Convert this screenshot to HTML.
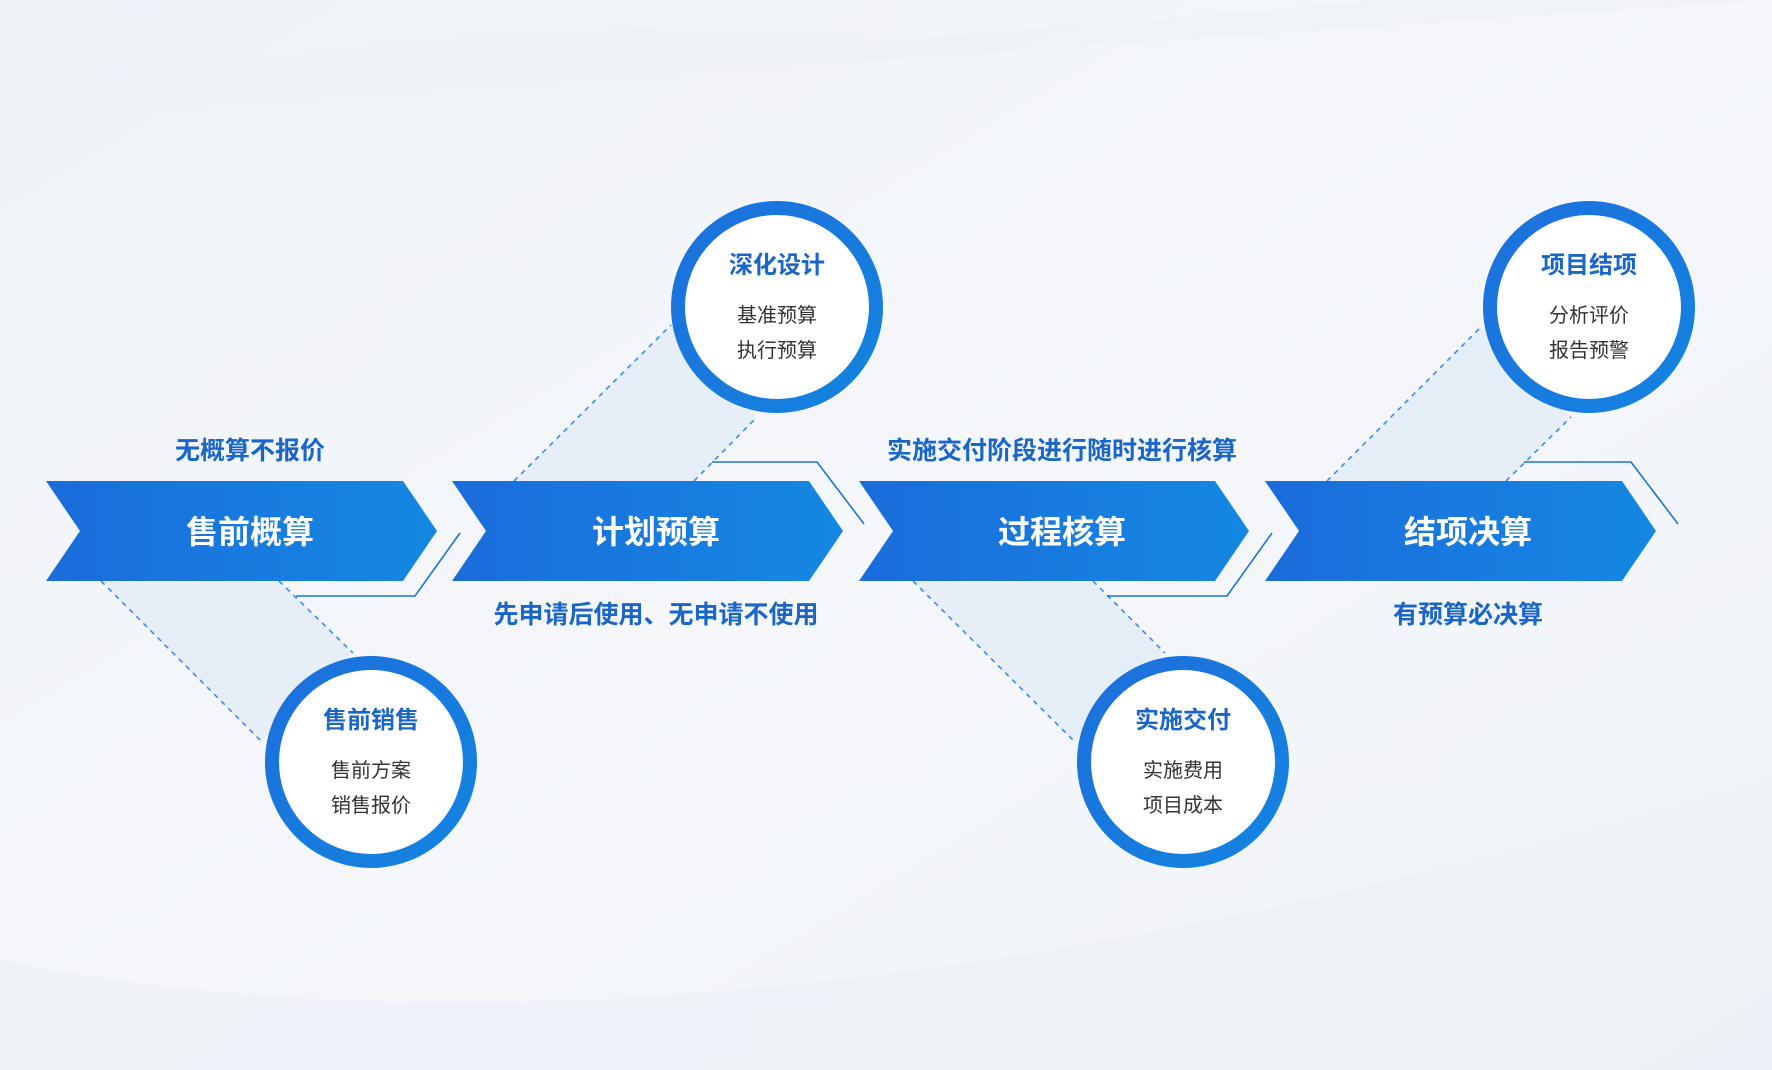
<!DOCTYPE html>
<html><head><meta charset="utf-8"><style>
html,body{margin:0;padding:0;background:#f3f6fa;}
svg{display:block}
text{font-family:"Liberation Sans","Noto Sans CJK SC",sans-serif}
</style></head><body>
<svg width="1772" height="1070" viewBox="0 0 1772 1070" xmlns="http://www.w3.org/2000/svg">
<defs>
<linearGradient id="ag" x1="0" x2="1" y1="0" y2="0"><stop offset="0" stop-color="#1b6cdb"/><stop offset="1" stop-color="#1488e2"/></linearGradient>
<linearGradient id="rg" x1="0" x2="1" y1="0" y2="1"><stop offset="0" stop-color="#1d70dc"/><stop offset="1" stop-color="#1384e0"/></linearGradient>
<linearGradient id="bg" x1="0" x2="1" y1="0" y2="1"><stop offset="0" stop-color="#eef2f7"/><stop offset="0.5" stop-color="#f5f7fb"/><stop offset="1" stop-color="#eef2f7"/></linearGradient>
</defs>
<rect width="1772" height="1070" fill="url(#bg)"/>
<path d="M0 120 Q400 0 900 40 L1380 0 L1772 0 L1772 0 Z" fill="#eef2f7" opacity="0.7"/>
<path d="M0 960 Q700 1100 1772 780 L1772 1070 L0 1070 Z" fill="#edf1f6" opacity="0.7"/>

<g fill="#e6eef8">
<path d="M101 581 L262 742 L300 690 L353 653 L279 581 Z"/>
<path d="M514 481 L671 325 L757 417 L694 481 Z"/>
<path d="M913 581 L1075 742 L1110 690 L1165 653 L1093 581 Z"/>
<path d="M1327 481 L1481 327 L1571 417 L1506 481 Z"/>
</g>
<g stroke="#3b8af0" stroke-width="1.6" stroke-dasharray="5 5" fill="none">
<line x1="101" y1="581" x2="262" y2="742"/><line x1="279" y1="581" x2="353" y2="653"/>
<line x1="514" y1="481" x2="671" y2="325"/><line x1="694" y1="481" x2="757" y2="417"/>
<line x1="913" y1="581" x2="1075" y2="742"/><line x1="1093" y1="581" x2="1165" y2="653"/>
<line x1="1327" y1="481" x2="1481" y2="327"/><line x1="1506" y1="481" x2="1571" y2="417"/>
</g>
<g stroke="#1a74dc" stroke-width="1.6" fill="none">
<polyline points="296,596 415,596 460,533"/>
<polyline points="712,462 817,462 864,524"/>
<polyline points="1107,596 1227,596 1272,533"/>
<polyline points="1524,462 1631,462 1678,524"/>
</g>

<g fill="url(#ag)">
<path d="M46 481 L403 481 L437 531 L403 581 L46 581 L80 531 Z"/>
<path d="M452 481 L809 481 L843 531 L809 581 L452 581 L486 531 Z"/>
<path d="M859 481 L1215 481 L1249 531 L1215 581 L859 581 L893 531 Z"/>
<path d="M1265 481 L1622 481 L1656 531 L1622 581 L1265 581 L1299 531 Z"/>
</g>
<g fill="#fff" font-size="32" font-weight="bold" text-anchor="middle">
<text x="250" y="543">售前概算</text>
<text x="656" y="543">计划预算</text>
<text x="1062" y="543">过程核算</text>
<text x="1468" y="543">结项决算</text>
</g>
<g fill="#1a66c8" font-size="25" font-weight="bold" text-anchor="middle">
<text x="250" y="459">无概算不报价</text>
<text x="656" y="623">先申请后使用、无申请不使用</text>
<text x="1062" y="459">实施交付阶段进行随时进行核算</text>
<text x="1468" y="623">有预算必决算</text>
</g>

<g fill="#fff" stroke="url(#rg)" stroke-width="14">
<circle cx="371" cy="762" r="99"/>
<circle cx="777" cy="307" r="99"/>
<circle cx="1183" cy="762" r="99"/>
<circle cx="1589" cy="307" r="99"/>
</g>
<g text-anchor="middle">
<g fill="#1a66c8" font-size="24" font-weight="bold">
<text x="371" y="728">售前销售</text>
<text x="777" y="273">深化设计</text>
<text x="1183" y="728">实施交付</text>
<text x="1589" y="273">项目结项</text>
</g>
<g fill="#333" font-size="20">
<text x="371" y="777">售前方案</text><text x="371" y="812">销售报价</text>
<text x="777" y="322">基准预算</text><text x="777" y="357">执行预算</text>
<text x="1183" y="777">实施费用</text><text x="1183" y="812">项目成本</text>
<text x="1589" y="322">分析评价</text><text x="1589" y="357">报告预警</text>
</g>
</g>
</svg>
</body></html>
